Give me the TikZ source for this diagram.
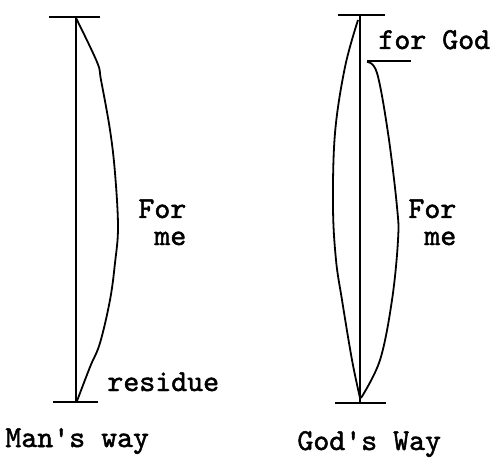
\documentclass[tikz,border=0pt]{standalone}
\usepackage{fontspec}
\newfontfamily\typer{lmmono10-regular}[Extension=.otf, FakeBold=1.6]
\usepackage{tikz}
\usetikzlibrary{positioning,calc}
\tikzset{
    way/.style={line width=1pt, black},
    godway/.style={line width=1.4pt, black},
    bar/.style={line width=0.8pt, black},
    bow/.style={line width=0.9pt, black},
    word/.style={font=\typer\fontsize{15.2}{13.5}\selectfont, inner sep=0pt, anchor=base west, align=left},
}

\begin{document}
\begin{tikzpicture}[x=0.5pt,y=-0.5pt]
    \useasboundingbox (0,0) rectangle (490,458);

    % Man's way
    \coordinate (mtop) at (76,17);
    \coordinate (mbot) at (76,402);
    \draw[bar] (49,17) -- (100,17);
    \draw[bar] (53,402) -- (98,402);
    \draw[way] (mtop) -- (mbot);
    \draw[bow] plot[smooth, tension=0.6] coordinates {(76,18) (97,62) (101,80) (110,130) (115,173) (118,227) (115,263) (110,300) (100,343) (90,367) (77,401)};
    \node[word] (mfor) at (138,245) {For\\\ me};
    \node[word] (res) at (107,391) {residue};
    \node[word] (man) at (5,447) {Man's way};

    % God's Way
    \coordinate (gtop) at (360,15);
    \coordinate (gbot) at (360,402);
    \draw[bar] (338,15) -- (385,15);
    \draw[bar] (335,403) -- (386,403);
    \draw[bar] (367,61) -- (411,61);
    \draw[godway] (gtop) -- (gbot);
    \draw[bow] plot[smooth, tension=0.6] coordinates {(358,20) (345,67) (335,133) (333,207) (336,260) (342,300) (352,360) (360,398)};
    \draw[bow] plot[smooth, tension=0.6] coordinates {(367,62) (377,73) (388,133) (397,207) (398,240) (392,300) (380,360) (361,398)};
    \node[word] (gfor) at (408,245) {For\\\ me};
    \node[word] (fgod) at (378,49) {for God};
    \node[word] (god) at (297,450) {God's Way};
\end{tikzpicture}
\end{document}
